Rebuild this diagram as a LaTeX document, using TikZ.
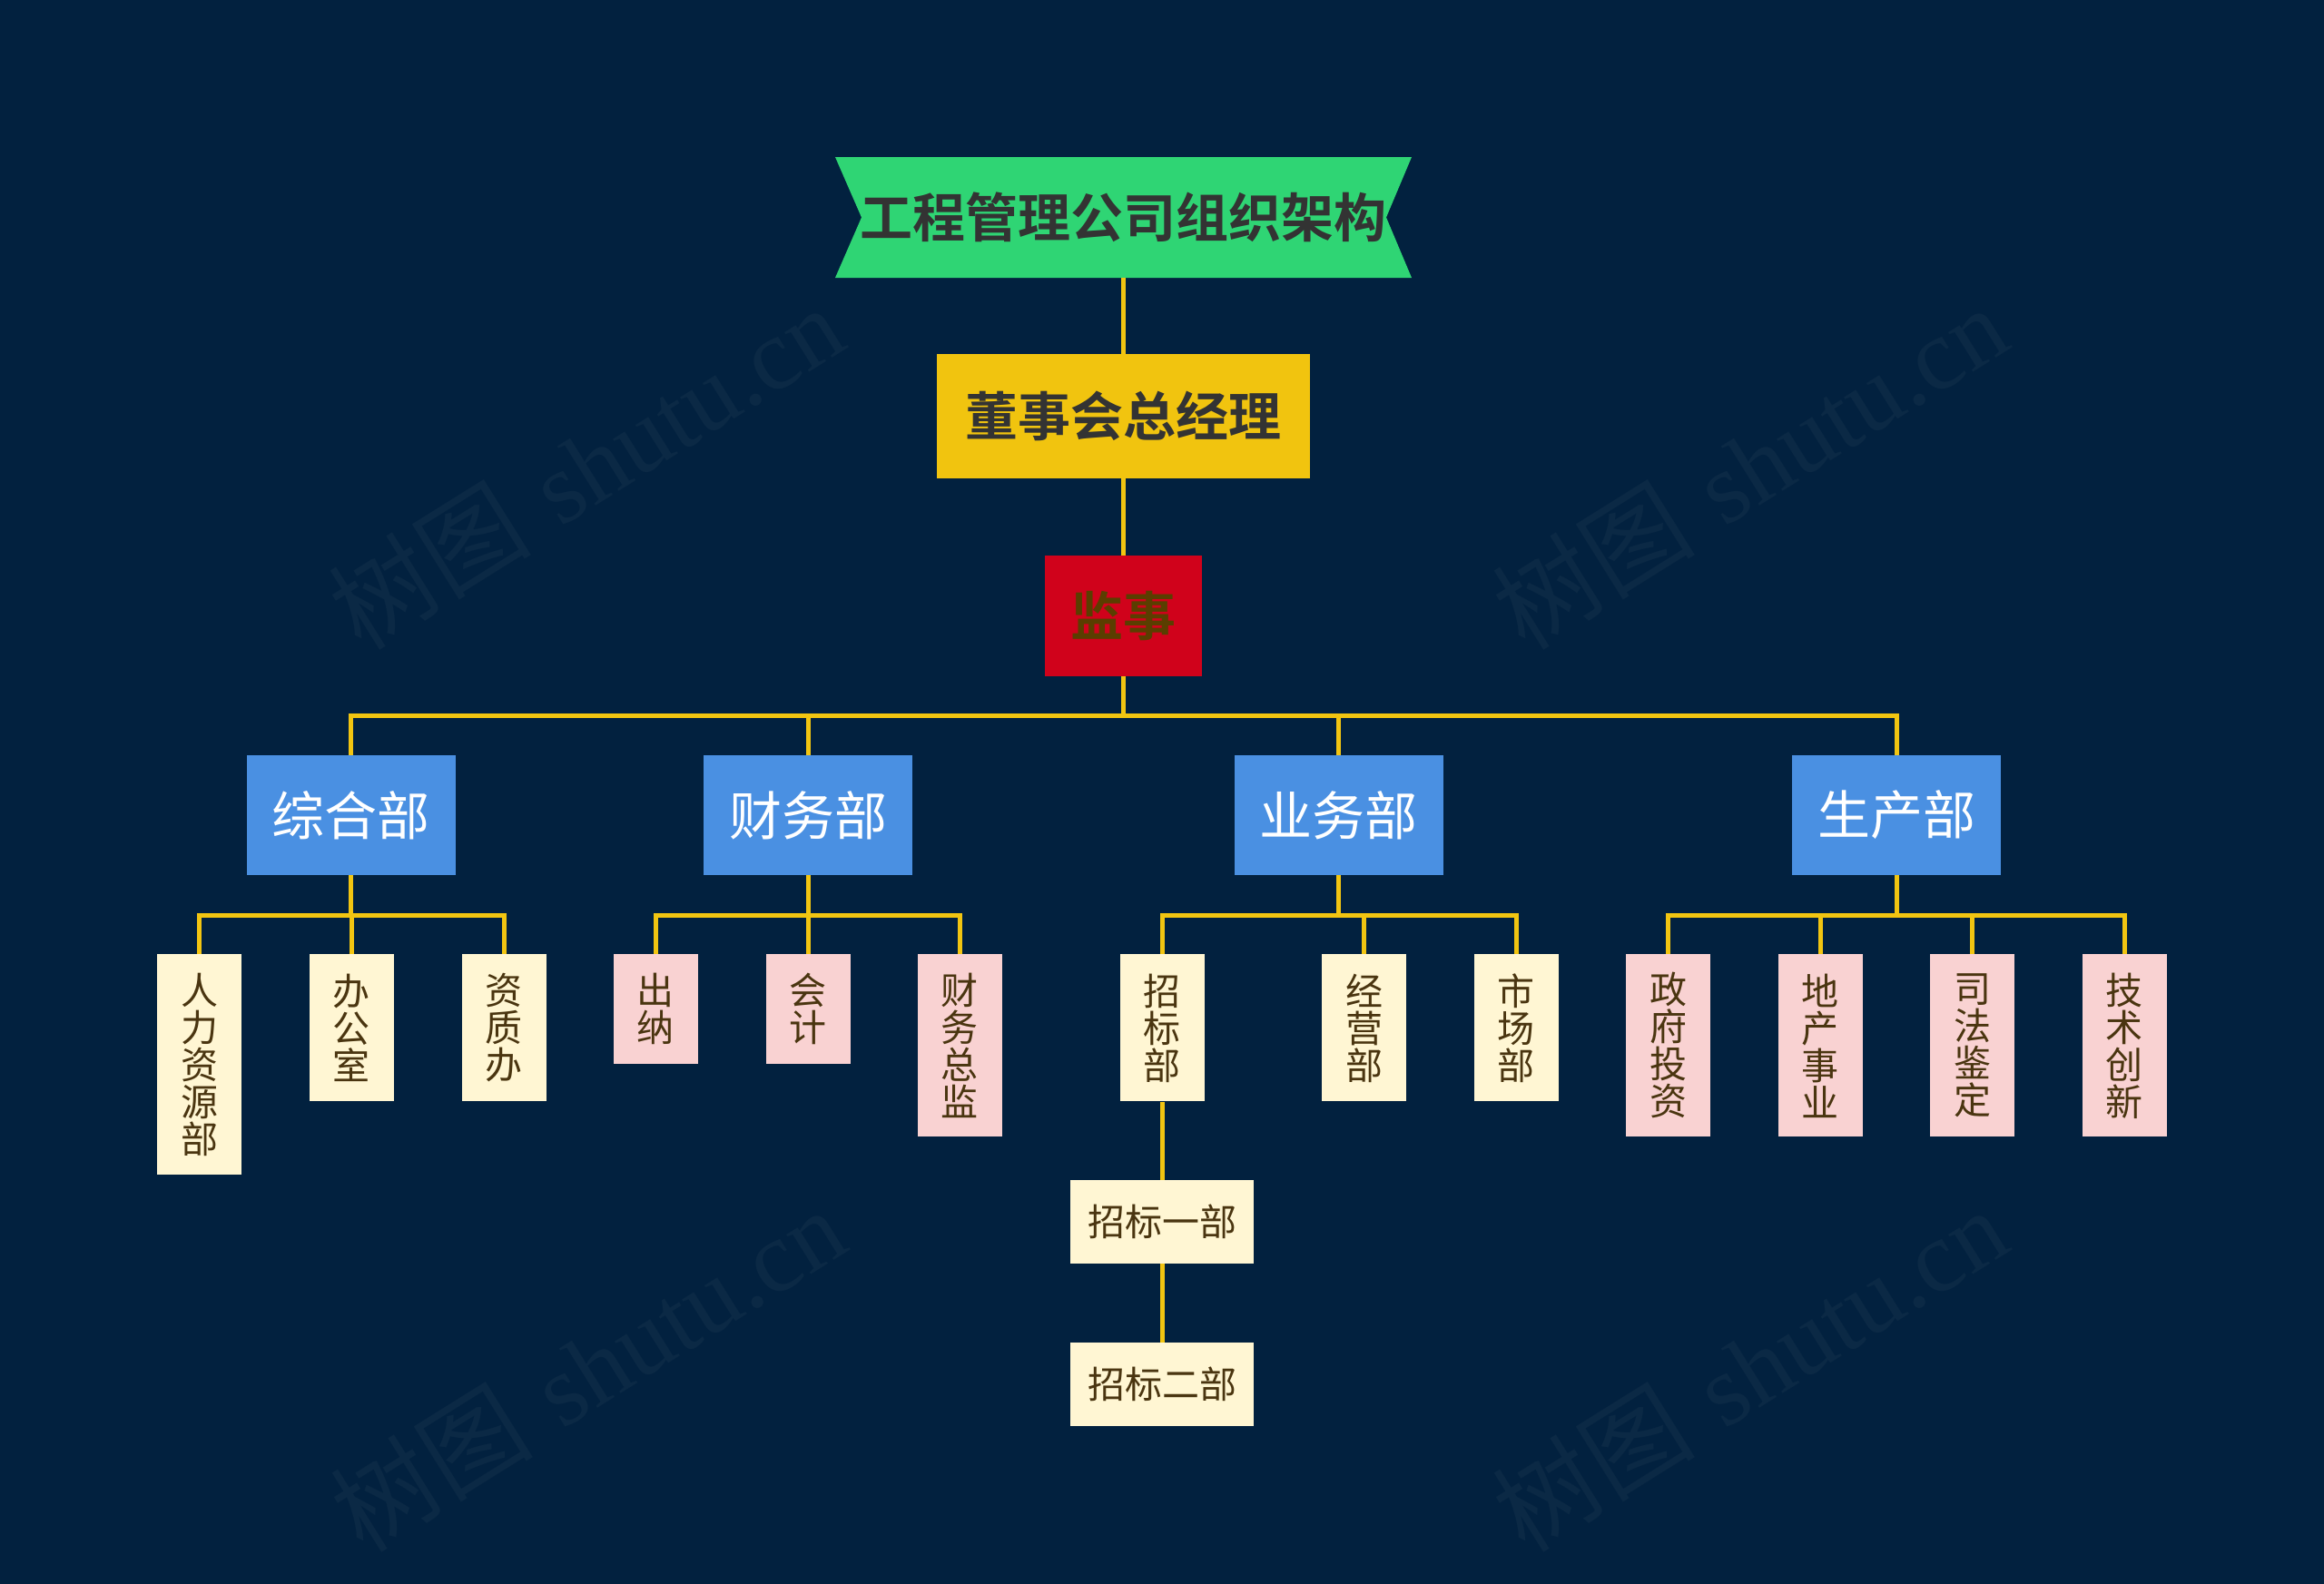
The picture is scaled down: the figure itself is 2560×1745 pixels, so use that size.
\documentclass[tikz,border=0pt]{standalone}
\usepackage{fontspec}
\newfontfamily\cjk{Noto Sans CJK SC}
\newfontfamily\cjkb{Noto Sans CJK SC Bold}
\newfontfamily\wmserif{Liberation Serif}
\definecolor{bg}{HTML}{02213F}
\definecolor{wm}{HTML}{0B2945}
\definecolor{titlegreen}{HTML}{2FD574}
\definecolor{gold}{HTML}{F1C40F}
\definecolor{redbox}{HTML}{D0021B}
\definecolor{deptblue}{HTML}{4A90E2}
\definecolor{cream}{HTML}{FFF6D3}
\definecolor{pinkfill}{HTML}{F9D2D2}
\definecolor{leaftext}{HTML}{4A3510}
\definecolor{darktext}{HTML}{333333}
\definecolor{olivetext}{HTML}{5A3E00}
\definecolor{linkyellow}{HTML}{F2C511}
\begin{document}
\begin{tikzpicture}[x=0.5pt,y=-0.5pt,
  box/.style={inner sep=0pt, align=center},
  dept/.style={box, fill=deptblue, minimum width=115pt, minimum height=66pt, text=white,
    font=\cjk\fontsize{29pt}{29pt}\selectfont},
  leaf/.style={box, minimum width=46.5pt, anchor=north, text=leaftext,
    font=\cjk\fontsize{20.5pt}{20.5pt}\selectfont},
  creamleaf/.style={leaf, fill=cream},
  pinkleaf/.style={leaf, fill=pinkfill},
  wide/.style={box, fill=cream, minimum width=101pt, minimum height=46pt, text=leaftext,
    font=\cjk\fontsize{20.5pt}{20.5pt}\selectfont},
  link/.style={draw=linkyellow, line width=2.5pt, line join=miter},
  wmark/.style={rotate=32, text=wm, font=\fontsize{56pt}{56pt}\selectfont}
]
\useasboundingbox (0,0) rectangle (2560,1745);
\fill[bg] (0,0) rectangle (2560,1745);

% watermarks
\node[wmark] (wm1) at (645,514) {{\cjk 树图} {\wmserif shutu.cn}};
\node[wmark] (wm2) at (1927,514) {{\cjk 树图} {\wmserif shutu.cn}};
\node[wmark] (wm3) at (647,1508) {{\cjk 树图} {\wmserif shutu.cn}};
\node[wmark] (wm4) at (1927,1508) {{\cjk 树图} {\wmserif shutu.cn}};

% title banner
\fill[titlegreen] (920,173) -- (1555,173) -- (1527,239.5) -- (1555,306) -- (920,306) -- (949,239.5) -- cycle;
\node[box, minimum width=317.5pt, minimum height=66.5pt, text=darktext,
  font=\cjkb\fontsize{29pt}{29pt}\selectfont] (title) at (1237.5,239.5) {工程管理公司组织架构};

\node[box, fill=gold, minimum width=205.5pt, minimum height=68.5pt, text=darktext,
  font=\cjkb\fontsize{29pt}{29pt}\selectfont] (board) at (1237.5,458.5) {董事会总经理};
\node[box, fill=redbox, minimum width=86.5pt, minimum height=66.5pt, text=olivetext,
  font=\cjkb\fontsize{29pt}{29pt}\selectfont] (sup) at (1237.5,678.5) {监事};

% departments
\node[dept] (zh) at (386.5,898) {综合部};
\node[dept] (cw) at (890,898) {财务部};
\node[dept] (yw) at (1474.5,898) {业务部};
\node[dept] (sc) at (2089,898) {生产部};

% leaves
\node[creamleaf, minimum height=121.5pt] (rl) at (219.5,1051) {人\\力\\资\\源\\部};
\node[creamleaf, minimum height=81pt] (bg1) at (387,1051) {办\\公\\室};
\node[creamleaf, minimum height=81pt] (zz) at (555,1051) {资\\质\\办};

\node[pinkleaf, minimum height=60.5pt] (cn) at (722,1051) {出\\纳};
\node[pinkleaf, minimum height=60.5pt] (kj) at (890,1051) {会\\计};
\node[pinkleaf, minimum height=100.5pt] (cz) at (1057,1051) {财\\务\\总\\监};

\node[creamleaf, minimum height=81pt] (zb) at (1280,1051) {招\\标\\部};
\node[creamleaf, minimum height=81pt] (jy) at (1502.5,1051) {经\\营\\部};
\node[creamleaf, minimum height=81pt] (sch) at (1670,1051) {市\\场\\部};

\node[pinkleaf, minimum height=100.5pt] (zf) at (1837.5,1051) {政\\府\\投\\资};
\node[pinkleaf, minimum height=100.5pt] (dc) at (2005,1051) {地\\产\\事\\业};
\node[pinkleaf, minimum height=100.5pt] (sf) at (2172.5,1051) {司\\法\\鉴\\定};
\node[pinkleaf, minimum height=100.5pt] (js) at (2340,1051) {技\\术\\创\\新};

\node[wide] (zb1) at (1280,1346) {招标一部};
\node[wide] (zb2) at (1280,1525) {招标二部};

% connectors
\draw[link] (title.south) -- (board.north);
\draw[link] (board.south) -- (sup.north);
\foreach \d in {zh,cw,yw,sc} \draw[link] (sup.south) -- ++(0,43) -| (\d.north);
\foreach \c in {rl,bg1,zz} \draw[link] (zh.south) -- ++(0,44) -| (\c.north);
\foreach \c in {cn,kj,cz} \draw[link] (cw.south) -- ++(0,44) -| (\c.north);
\foreach \c in {zb,jy,sch} \draw[link] (yw.south) -- ++(0,44) -| (\c.north);
\foreach \c in {zf,dc,sf,js} \draw[link] (sc.south) -- ++(0,44) -| (\c.north);
\draw[link] (zb.south) -- (zb1.north);
\draw[link] (zb1.south) -- (zb2.north);
\end{tikzpicture}
\end{document}
